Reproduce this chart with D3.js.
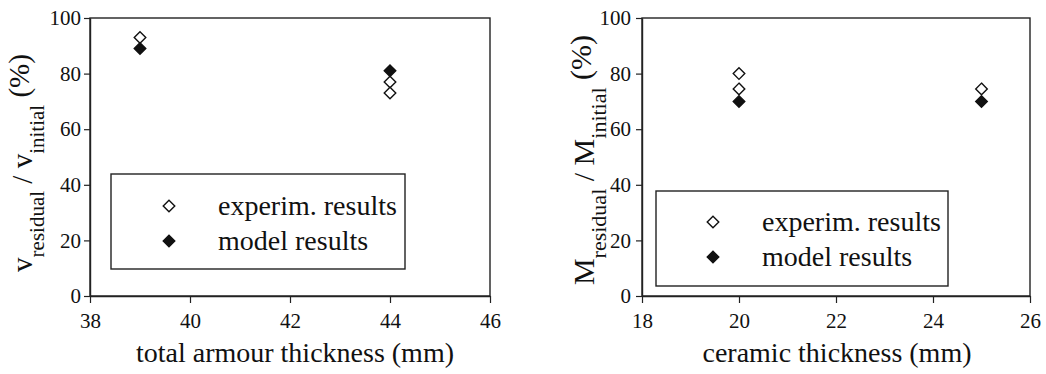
<!DOCTYPE html>
<html>
<head>
<meta charset="utf-8">
<script src="https://cdn.jsdelivr.net/npm/d3@7"></script>
<style>
  html, body { margin: 0; padding: 0; background: #fff; }
  svg { display: block; }
  text { font-family: "Liberation Serif", "Times New Roman", serif; fill: #111; }
</style>
</head>
<body>
<svg id="chart" width="1046" height="374"></svg>
<script>
// Residual velocity vs. total armour thickness
const armourThickness = [39, 44, 44];
const velocityExperim = [93, 77, 73];
const armourThicknessModel = [39, 44];
const velocityModel = [89, 81];

// Residual mass vs. ceramic thickness
const ceramicThickness = [20, 20, 25];
const massExperim = [80, 74.5, 74.5];
const ceramicThicknessModel = [20, 25];
const massModel = [70, 70];

const armourTicks = [38, 40, 42, 44, 46];
const ceramicTicks = [18, 20, 22, 24, 26];
const percentTicks = [0, 20, 40, 60, 80, 100];

const legendLabels = ["experim. results", "model results"];

const svg = d3.select("#chart");
const diamond = d3.symbol().type(d3.symbolDiamond2).size(85);

function drawPanel(o) {
  const g = svg.append("g");
  const x = d3.scaleLinear().domain(o.xDomain).range([o.left, o.right]);
  const y = d3.scaleLinear().domain([0, 100]).range([o.bottom, o.top]);

  // frame
  g.append("rect")
    .attr("x", o.left).attr("y", o.top)
    .attr("width", o.right - o.left).attr("height", o.bottom - o.top)
    .attr("fill", "none").attr("stroke", "#222").attr("stroke-width", 1.4);

  const xAxis = g.append("g")
    .attr("transform", `translate(0,${o.bottom})`)
    .call(d3.axisBottom(x).tickValues(o.xTicks).tickSize(7).tickPadding(10).tickSizeOuter(0));
  const yAxis = g.append("g")
    .attr("transform", `translate(${o.left},0)`)
    .call(d3.axisLeft(y).tickValues(percentTicks).tickSize(6).tickPadding(o.yPad).tickSizeOuter(0));
  [xAxis, yAxis].forEach(a => {
    a.attr("font-family", null);
    a.select(".domain").attr("stroke", "#222").attr("stroke-width", 1.4);
    a.selectAll(".tick line").attr("stroke", "#222").attr("stroke-width", 1.2);
    a.selectAll(".tick text")
      .attr("font-size", 21).attr("fill", "#111");
  });

  // x axis title
  g.append("text")
    .attr("x", o.xTitleX).attr("y", 362)
    .attr("text-anchor", "middle")
    .attr("font-size", 28)
    .text(o.xTitle);

  // y axis title with subscripts
  const yt = g.append("text")
    .attr("transform", `translate(${o.yTitleX},${o.yTitleY}) rotate(-90)`)
    .attr("text-anchor", "middle")
    .attr("font-size", o.yFont);
  yt.append("tspan").text(o.sym);
  yt.append("tspan").attr("font-size", o.ySub).attr("dy", o.subShift).text("residual");
  yt.append("tspan").attr("dy", -o.subShift).text(" / " + o.sym);
  yt.append("tspan").attr("font-size", o.ySub).attr("dy", o.subShift).text("initial");
  yt.append("tspan").attr("dy", -o.subShift - 3).text(" (%)");

  // experimental points (open diamonds)
  g.selectAll(".exp").data(o.expX.map((v, i) => [v, o.expY[i]]))
    .enter().append("path")
    .attr("d", diamond)
    .attr("transform", d => `translate(${x(d[0])},${y(d[1])})`)
    .attr("fill", "#fff").attr("stroke", "#111").attr("stroke-width", 1.4);

  // model points (filled diamonds)
  g.selectAll(".mod").data(o.modX.map((v, i) => [v, o.modY[i]]))
    .enter().append("path")
    .attr("d", diamond)
    .attr("transform", d => `translate(${x(d[0])},${y(d[1])})`)
    .attr("fill", "#111").attr("stroke", "#111").attr("stroke-width", 1.4);

  // legend
  const L = o.legend;
  g.append("rect")
    .attr("x", L.x).attr("y", L.y).attr("width", L.w).attr("height", L.h)
    .attr("fill", "#fff").attr("stroke", "#222").attr("stroke-width", 1.4);
  legendLabels.forEach((lab, i) => {
    const cy = L.y + L.firstRow + i * 35;
    g.append("path").attr("d", diamond)
      .attr("transform", `translate(${L.x + L.markerDx},${cy})`)
      .attr("fill", i === 0 ? "#fff" : "#111")
      .attr("stroke", "#111").attr("stroke-width", 1.4);
    g.append("text")
      .attr("x", L.x + L.textDx).attr("y", cy + 9)
      .attr("font-size", 28)
      .text(lab);
  });
}

drawPanel({
  left: 90, right: 490, top: 18, bottom: 296,
  xDomain: [38, 46], xTicks: armourTicks, yPad: 3,
  xTitle: "total armour thickness (mm)", xTitleX: 295,
  sym: "v", yTitleX: 32, yTitleY: 163, yFont: 29, ySub: 21, subShift: 12,
  expX: armourThickness, expY: velocityExperim,
  modX: armourThicknessModel, modY: velocityModel,
  legend: { x: 111, y: 174, w: 294, h: 95, firstRow: 32, markerDx: 58, textDx: 107 }
});

drawPanel({
  left: 642, right: 1030, top: 18, bottom: 296,
  xDomain: [18, 26], xTicks: ceramicTicks, yPad: 5,
  xTitle: "ceramic thickness (mm)", xTitleX: 837,
  sym: "M", yTitleX: 594, yTitleY: 160, yFont: 30, ySub: 22, subShift: 12,
  expX: ceramicThickness, expY: massExperim,
  modX: ceramicThicknessModel, modY: massModel,
  legend: { x: 656, y: 191, w: 292, h: 95, firstRow: 31, markerDx: 57, textDx: 106 }
});
</script>
</body>
</html>
